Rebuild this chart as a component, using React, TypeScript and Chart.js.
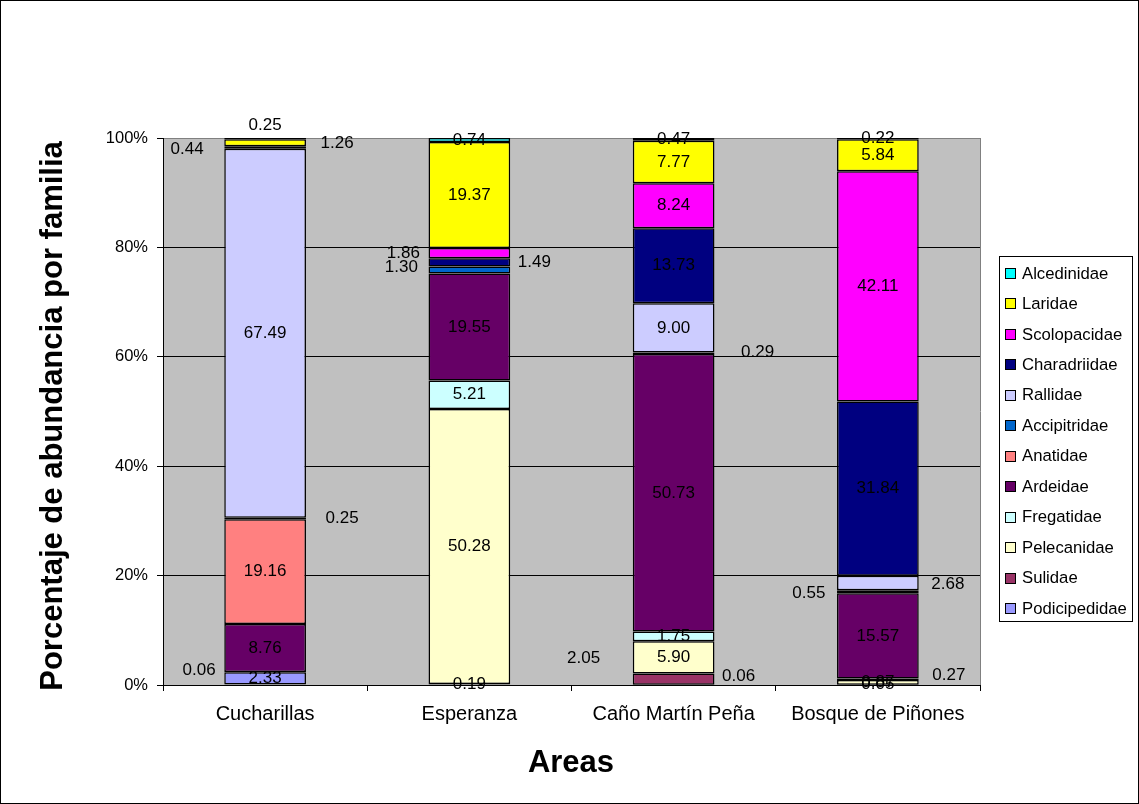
import React, { useEffect, useRef } from 'react';
import { Chart, registerables } from 'chart.js';
Chart.register(...registerables);

const categories = ['Cucharillas', 'Esperanza', 'Caño Martín Peña', 'Bosque de Piñones'];
const families = ['Podicipedidae', 'Sulidae', 'Pelecanidae', 'Fregatidae', 'Ardeidae', 'Anatidae', 'Accipitridae', 'Rallidae', 'Charadriidae', 'Scolopacidae', 'Laridae', 'Alcedinidae'];
const podicipedidae = [2.33, null, 0.06, 0.05];
const sulidae = [0.06, 0.19, 2.05, null];
const pelecanidae = [null, 50.28, 5.9, 0.87];
const fregatidae = [null, 5.21, 1.75, 0.27];
const ardeidae = [8.76, 19.55, 50.73, 15.57];
const anatidae = [19.16, null, null, null];
const accipitridae = [0.25, 1.3, 0.29, 0.55];
const rallidae = [67.49, null, 9.0, 2.68];
const charadriidae = [0.44, 1.49, 13.73, 31.84];
const scolopacidae = [null, 1.86, 8.24, 42.11];
const laridae = [1.26, 19.37, 7.77, 5.84];
const alcedinidae = [0.25, 0.74, 0.47, 0.22];
const seriesValues = [podicipedidae, sulidae, pelecanidae, fregatidae, ardeidae, anatidae, accipitridae, rallidae, charadriidae, scolopacidae, laridae, alcedinidae];
const colors = ['#9999FF', '#993366', '#FFFFCC', '#CCFFFF', '#660066', '#FF8080', '#0066CC', '#CCCCFF', '#000080', '#FF00FF', '#FFFF00', '#00FFFF'];
const yTickLabels = ['0%', '20%', '40%', '60%', '80%', '100%'];
const xTitle = 'Areas';
const yTitle = 'Porcentaje de abundancia por familia';

// label displacement (px) for small segments, keyed "dataset-index"
const labelOffsets: Record<string, [number, number]> = {
  '1-0': [-66, -2],
  '6-0': [77, 0],
  '8-0': [-78, 2],
  '10-0': [72, 0],
  '11-0': [0, -13],
  '6-1': [-68, -3],
  '8-1': [65, 0],
  '9-1': [-66, 0],
  '0-2': [65, -8],
  '1-2': [-90, -21],
  '6-2': [84, -1],
  '3-3': [71, -4],
  '6-3': [-69, 1],
  '7-3': [70, 1],
};

const FONT = '"Liberation Sans", Arial, sans-serif';

const decorPlugin = {
  id: 'decor',
  beforeDraw(chart: any) {
    const { ctx, chartArea: a } = chart;
    ctx.save();
    ctx.fillStyle = '#FFFFFF';
    ctx.fillRect(0, 0, chart.width, chart.height);
    ctx.fillStyle = '#C0C0C0';
    ctx.fillRect(a.left, a.top, a.right - a.left, a.bottom - a.top);
    ctx.strokeStyle = '#808080';
    ctx.lineWidth = 1;
    ctx.beginPath();
    ctx.moveTo(Math.round(a.right) + 0.5, a.top);
    ctx.lineTo(Math.round(a.right) + 0.5, a.bottom);
    ctx.stroke();
    ctx.restore();
  },
  afterDatasetsDraw(chart: any) {
    const { ctx } = chart;
    ctx.save();
    ctx.font = `17px ${FONT}`;
    ctx.fillStyle = '#000';
    ctx.textAlign = 'center';
    ctx.textBaseline = 'middle';
    chart.data.datasets.forEach((ds: any, di: number) => {
      const meta = chart.getDatasetMeta(di);
      meta.data.forEach((el: any, i: number) => {
        const v = ds.data[i];
        if (v === null || v === undefined) return;
        const off = labelOffsets[`${di}-${i}`] || [0, 0];
        const cy = (el.y + el.base) / 2;
        ctx.fillText(v.toFixed(2), el.x + off[0], cy + off[1]);
      });
    });
    ctx.restore();
  },
  afterDraw(chart: any) {
    const { ctx } = chart;
    ctx.save();
    // outer border
    ctx.strokeStyle = '#000';
    ctx.lineWidth = 1;
    ctx.strokeRect(0.5, 0.5, chart.width - 1, chart.height - 1);
    // titles
    ctx.fillStyle = '#000';
    ctx.font = `bold 31px ${FONT}`;
    ctx.textAlign = 'center';
    ctx.textBaseline = 'alphabetic';
    ctx.fillText(xTitle, 571, 772);
    ctx.save();
    ctx.translate(62, 416);
    ctx.rotate(-Math.PI / 2);
    ctx.fillText(yTitle, 0, 0);
    ctx.restore();
    // legend
    const lx = 999, ly = 256, lw = 133, lh = 365;
    ctx.fillStyle = '#FFFFFF';
    ctx.fillRect(lx, ly, lw, lh);
    ctx.strokeStyle = '#000';
    ctx.strokeRect(lx + 0.5, ly + 0.5, lw, lh);
    ctx.font = `16.7px ${FONT}`;
    ctx.textAlign = 'left';
    ctx.textBaseline = 'middle';
    const n = families.length;
    for (let k = 0; k < n; k++) {
      const idx = n - 1 - k;
      const y = 273 + k * 30.45;
      ctx.fillStyle = colors[idx];
      ctx.fillRect(1005, Math.round(y - 5), 11, 11);
      ctx.strokeStyle = '#000';
      ctx.strokeRect(1005.5, Math.round(y - 5) + 0.5, 10, 10);
      ctx.fillStyle = '#000';
      ctx.fillText(families[idx], 1022, y + 1);
    }
    ctx.restore();
  },
};

export default function App() {
  const ref = useRef<HTMLCanvasElement>(null);
  useEffect(() => {
    document.body.style.margin = '0';
    const chart = new Chart(ref.current as HTMLCanvasElement, {
      type: 'bar',
      data: {
        labels: categories,
        datasets: families.map((f, i) => ({
          label: f,
          data: seriesValues[i] as any,
          backgroundColor: colors[i],
          borderColor: '#000000',
          borderWidth: 1.5,
          borderSkipped: false,
          barPercentage: 0.4,
          categoryPercentage: 1,
        })),
      },
      options: {
        animation: false,
        responsive: false,
        devicePixelRatio: 1,
        layout: { padding: { left: 0, top: 138, right: 159, bottom: 0 } },
        plugins: { legend: { display: false }, tooltip: { enabled: false }, title: { display: false } },
        scales: {
          x: {
            stacked: true,
            grid: { display: true, drawOnChartArea: false, drawTicks: true, tickLength: 6, color: '#000', offset: true },
            border: { display: true, color: '#000' },
            ticks: { color: '#000', font: { family: FONT, size: 20 }, padding: 11 },
            afterFit: (s: any) => { s.height = 119; },
          },
          y: {
            stacked: true,
            min: 0,
            max: 100,
            ticks: {
              stepSize: 20,
              color: '#000',
              font: { family: FONT, size: 16.5 },
              padding: 9,
              callback: (v: any) => yTickLabels[Math.round(Number(v) / 20)],
            },
            grid: {
              color: (c: any) => (c.tick && c.tick.value === 100 ? '#808080' : '#000'),
              tickColor: '#000',
              tickLength: 6,
            },
            border: { display: true, color: '#000' },
            afterFit: (s: any) => { s.width = 163; },
          },
        },
      },
      plugins: [decorPlugin],
    });
    return () => chart.destroy();
  }, []);
  return (
    <div style={{ width: 1139, height: 804 }}>
      <canvas ref={ref} width={1139} height={804} style={{ display: 'block' }} />
    </div>
  );
}
